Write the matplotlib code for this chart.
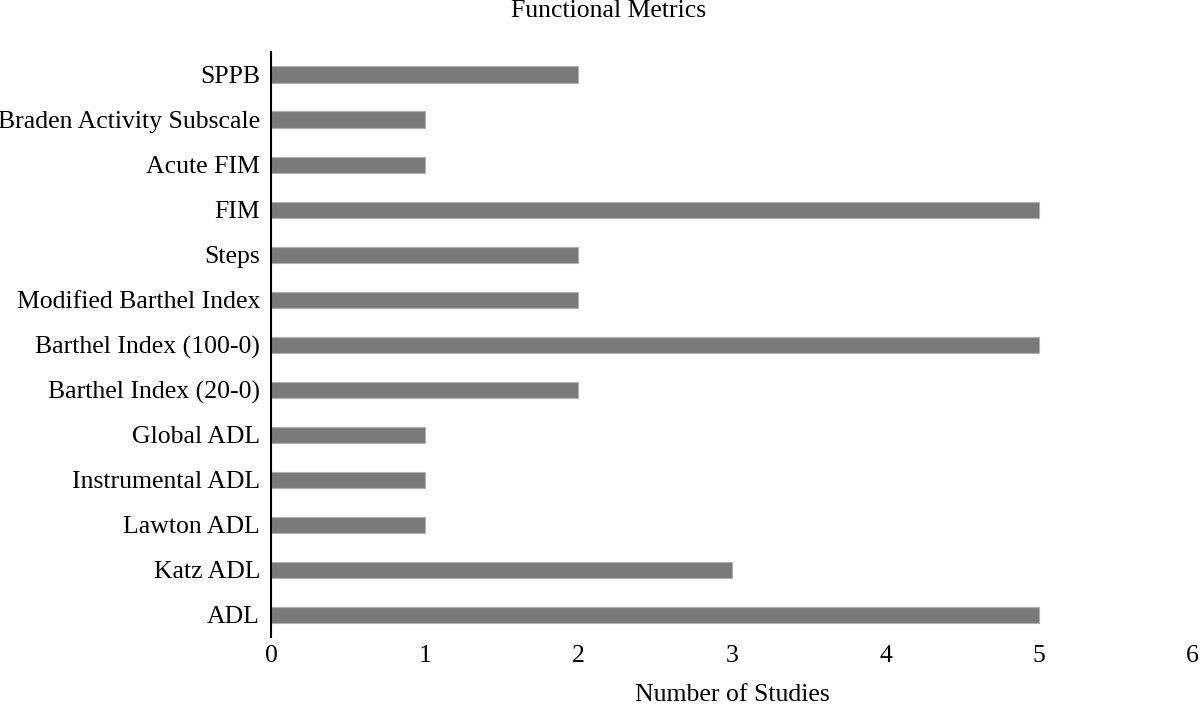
import matplotlib.pyplot as plt
import numpy as np

categorias = ['ADL', 'Katz ADL', 'Lawton ADL', 'Instrumental ADL', 'Global ADL',
              'Barthel Index (20-0)', 'Barthel Index (100-0)', 'Modified Barthel Index',
              'Steps', 'FIM', 'Acute FIM', 'Braden Activity Subscale', 'SPPB']
n_estudos = [5, 3, 1, 1, 1, 2, 5, 2, 2, 5, 1, 1, 2]
ticks_x = [0, 1, 2, 3, 4, 5, 6]

plt.rcParams['font.family'] = ['Liberation Serif', 'DejaVu Serif']
plt.rcParams['font.size'] = 18.5

fig = plt.figure(figsize=(12, 7.04), dpi=100)
ax = fig.add_axes([0.226, 0.095, 0.768, 0.831])

y = np.arange(len(categorias))
ax.barh(y, n_estudos, height=0.36, color='#7a7a7a', edgecolor='#b0b0b0', linewidth=0.8)

ax.set_xlim(0, 6)
ax.set_ylim(-0.5, len(categorias) - 0.5)
ax.set_xticks(ticks_x)
ax.set_yticks(y)
ax.set_yticklabels(categorias)
ax.tick_params(axis='both', length=0, labelsize=18.5)
ax.tick_params(axis='x', pad=6)
ax.tick_params(axis='y', pad=8)
for s in ['top', 'right', 'bottom']:
    ax.spines[s].set_visible(False)
ax.spines['left'].set_linewidth(1.5)

ax.set_xlabel('Number of Studies', fontsize=18.5, labelpad=12)
fig.text(0.507, 0.984, 'Functional Metrics', ha='center', va='center', fontsize=18.5)

plt.savefig('out.png', dpi=100)
